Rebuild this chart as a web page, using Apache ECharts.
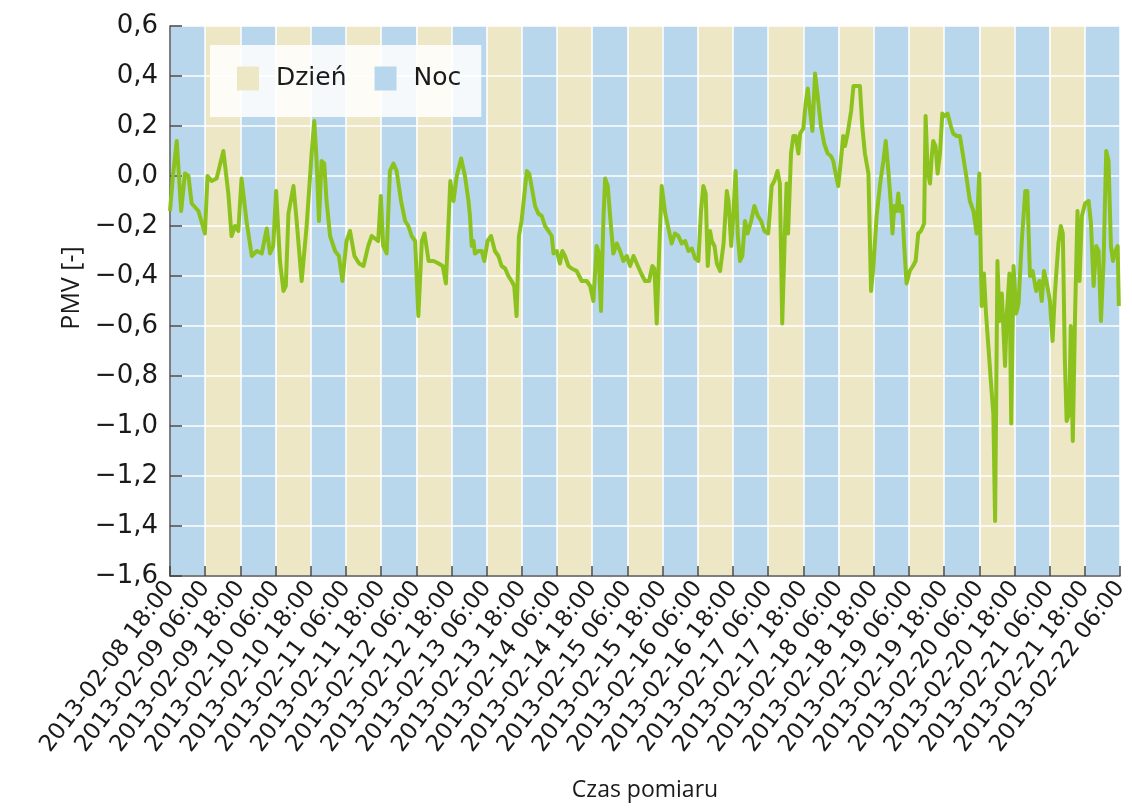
<!DOCTYPE html>
<html><head><meta charset="utf-8">
<script src="https://cdn.jsdelivr.net/npm/echarts@6/dist/echarts.min.js"></script>
<style>html,body{margin:0;padding:0;background:#fff}#c{width:1132px;height:810px}</style>
</head><body><div id="c"></div>
<script>
// x tick labels, every 12 hours from 2013-02-08 18:00
const tickLabels = [
 '2013-02-08 18:00','2013-02-09 06:00','2013-02-09 18:00','2013-02-10 06:00','2013-02-10 18:00',
 '2013-02-11 06:00','2013-02-11 18:00','2013-02-12 06:00','2013-02-12 18:00','2013-02-13 06:00',
 '2013-02-13 18:00','2013-02-14 06:00','2013-02-14 18:00','2013-02-15 06:00','2013-02-15 18:00',
 '2013-02-16 06:00','2013-02-16 18:00','2013-02-17 06:00','2013-02-17 18:00','2013-02-18 06:00',
 '2013-02-18 18:00','2013-02-19 06:00','2013-02-19 18:00','2013-02-20 06:00','2013-02-20 18:00',
 '2013-02-21 06:00','2013-02-21 18:00','2013-02-22 06:00'
];
const stepHours = 12;
// period between consecutive ticks: night (18-06) / day (06-18)
const periods = ['Noc','Dzień','Noc','Dzień','Noc','Dzień','Noc','Dzień','Noc','Dzień','Noc','Dzień','Noc','Dzień',
 'Noc','Dzień','Noc','Dzień','Noc','Dzień','Noc','Dzień','Noc','Dzień','Noc','Dzień','Noc'];
const yTicks = {min:-1.6, max:0.6, step:0.2};
// PMV readings: [hours since 2013-02-08 18:00, PMV]
const pmvReadings = [
 [0,-0.14],[1.0,0.0],[2.3,0.14],[3.8,-0.14],[5.1,0.01],[6.3,0.0],[7.4,-0.11],[9.7,-0.14],[11.9,-0.23],
 [12.8,0.0],[14.2,-0.02],[15.9,-0.01],[18.2,0.10],[19.9,-0.07],[21.0,-0.24],[22.2,-0.20],[23.3,-0.22],
 [24.4,-0.01],[26.1,-0.18],[27.9,-0.32],[29.6,-0.30],[31.3,-0.31],[33.0,-0.21],[34.1,-0.31],[35.2,-0.28],
 [36.2,-0.06],[37.5,-0.34],[38.7,-0.46],[39.5,-0.44],[40.4,-0.15],[42.1,-0.04],[43.2,-0.18],[44.9,-0.42],
 [46.6,-0.20],[48.3,0.09],[49.2,0.22],[50.0,0.06],[50.8,-0.18],[51.7,0.06],[52.6,0.05],[53.4,-0.10],
 [54.6,-0.24],[56.3,-0.30],[57.6,-0.32],[58.8,-0.42],[60.2,-0.26],[61.4,-0.22],[62.9,-0.32],[64.5,-0.35],
 [66.0,-0.36],[67.6,-0.28],[68.8,-0.24],[69.9,-0.25],[71.0,-0.26],[71.9,-0.08],[72.7,-0.28],[73.9,-0.31],
 [75.0,0.02],[76.2,0.05],[77.3,0.02],[78.8,-0.10],[80.2,-0.18],[81.3,-0.20],[82.4,-0.24],[83.6,-0.26],
 [84.7,-0.56],[85.9,-0.26],[86.8,-0.23],[88.2,-0.34],[89.9,-0.34],[91.6,-0.35],[93.0,-0.36],[94.1,-0.43],
 [95.6,-0.02],[96.7,-0.10],[97.8,0.0],[99.3,0.07],[100.6,0.0],[101.8,-0.10],[102.3,-0.16],[102.9,-0.28],
 [103.5,-0.26],[104.0,-0.31],[105.2,-0.30],[106.3,-0.30],[107.2,-0.34],[108.3,-0.26],[109.5,-0.24],
 [110.8,-0.30],[112.0,-0.32],[113.1,-0.36],[114.3,-0.37],[115.4,-0.40],[116.5,-0.42],[117.4,-0.44],
 [118.2,-0.56],[119.0,-0.24],[119.9,-0.18],[120.9,-0.07],[121.7,0.02],[122.5,0.01],[123.3,-0.04],
 [124.5,-0.12],[125.6,-0.15],[126.8,-0.16],[127.9,-0.20],[129.1,-0.22],[130.2,-0.24],[130.8,-0.31],
 [131.9,-0.30],[133.0,-0.35],[133.8,-0.30],[134.7,-0.32],[135.9,-0.36],[137.0,-0.37],[138.7,-0.38],
 [140.4,-0.42],[142.1,-0.42],[143.3,-0.44],[144.4,-0.50],[145.5,-0.28],[146.1,-0.30],[147.0,-0.54],
 [147.8,-0.18],[148.4,-0.01],[149.3,-0.04],[150.1,-0.16],[151.2,-0.31],[152.4,-0.27],[153.5,-0.30],
 [154.6,-0.34],[155.8,-0.32],[156.9,-0.36],[158.1,-0.32],[159.2,-0.35],[160.7,-0.39],[162.0,-0.42],
 [163.4,-0.42],[164.5,-0.36],[165.2,-0.37],[166.0,-0.59],[166.9,-0.28],[167.7,-0.04],[168.9,-0.15],
 [170.0,-0.21],[171.1,-0.27],[172.2,-0.23],[173.4,-0.24],[174.5,-0.27],[175.7,-0.26],[176.8,-0.30],
 [178.0,-0.29],[179.1,-0.33],[180.2,-0.34],[181.1,-0.14],[181.9,-0.04],[182.7,-0.07],[183.4,-0.36],
 [184.2,-0.22],[184.8,-0.26],[185.7,-0.28],[186.5,-0.35],[187.6,-0.38],[188.8,-0.27],[189.9,-0.06],
 [190.5,-0.10],[191.4,-0.28],[192.1,-0.16],[192.9,0.02],[193.6,-0.23],[194.4,-0.34],[195.2,-0.32],
 [196.1,-0.18],[197.0,-0.23],[198.2,-0.18],[199.3,-0.12],[200.5,-0.16],[201.6,-0.18],[202.7,-0.22],
 [204.0,-0.23],[204.6,-0.14],[205.2,-0.04],[206.1,-0.02],[207.2,0.02],[208.0,-0.03],[208.8,-0.59],
 [209.7,-0.23],[210.3,-0.03],[210.8,-0.23],[211.8,0.09],[212.6,0.16],[213.4,0.16],[214.3,0.09],
 [214.9,0.17],[216.0,0.19],[216.8,0.29],[217.5,0.35],[218.3,0.26],[219.1,0.18],[220.0,0.41],[220.9,0.32],
 [222.0,0.20],[223.1,0.13],[224.3,0.09],[225.4,0.08],[226.2,0.06],[227.0,0.01],[227.9,-0.04],[228.8,0.06],
 [229.6,0.16],[230.2,0.12],[231.1,0.17],[232.3,0.26],[233.1,0.36],[234.2,0.36],[235.3,0.36],[236.1,0.20],
 [237.0,0.09],[238.2,0.01],[239.1,-0.46],[239.9,-0.36],[241.0,-0.16],[242.2,-0.03],[243.3,0.06],
 [244.1,0.14],[245.0,0.02],[245.9,-0.12],[246.4,-0.23],[247.0,-0.12],[247.8,-0.14],[248.4,-0.07],
 [248.9,-0.14],[249.7,-0.12],[250.4,-0.28],[251.2,-0.43],[252.3,-0.38],[253.4,-0.36],[254.3,-0.34],
 [255.2,-0.23],[256.1,-0.22],[257.2,-0.19],[257.7,0.24],[258.4,0.02],[259.2,-0.03],[259.8,0.08],
 [260.3,0.14],[261.1,0.12],[261.8,0.01],[262.6,0.09],[263.4,0.25],[264.2,0.24],[265.2,0.25],[266.3,0.20],
 [267.1,0.17],[268.3,0.16],[269.4,0.16],[270.5,0.08],[271.7,-0.01],[272.8,-0.10],[274.0,-0.14],
 [275.1,-0.23],[276.0,0.01],[276.8,-0.52],[277.6,-0.39],[278.3,-0.55],[279.1,-0.68],[280.2,-0.86],
 [280.8,-0.95],[281.4,-1.38],[282.2,-0.34],[282.9,-0.58],[283.7,-0.47],[284.8,-0.76],[285.4,-0.55],
 [286.3,-0.39],[286.9,-0.99],[287.7,-0.36],[288.6,-0.55],[289.4,-0.51],[290.5,-0.26],[291.7,-0.06],
 [292.4,-0.06],[293.3,-0.40],[294.2,-0.38],[295.4,-0.46],[296.5,-0.42],[297.3,-0.50],[298.1,-0.38],
 [299.2,-0.44],[300.1,-0.50],[301.0,-0.66],[301.8,-0.47],[303.0,-0.27],[303.8,-0.20],[304.5,-0.23],
 [305.2,-0.74],[305.8,-0.98],[306.7,-0.95],[307.2,-0.60],[307.9,-1.06],[308.7,-0.54],[309.5,-0.14],
 [310.2,-0.42],[311.0,-0.16],[312.1,-0.11],[313.3,-0.10],[314.1,-0.19],[315.0,-0.44],[315.9,-0.28],
 [316.7,-0.30],[317.5,-0.58],[318.4,-0.34],[319.3,0.10],[320.1,0.06],[320.9,-0.28],[321.6,-0.34],
 [322.4,-0.30],[323.2,-0.28],[323.6,-0.52]
];
const colors = {day:'#ede7c6', night:'#b8d7ec', line:'#8cc21e'};

const fmtNum = v => v.toFixed(1).replace('.', ',').replace('-', '\u2212');
function bands(kind){
  const out = [];
  periods.forEach((p,i)=>{ if(p===kind) out.push([{xAxis:i*stepHours},{xAxis:(i+1)*stepHours}]); });
  return out;
}
const chart = echarts.init(document.getElementById('c'));
chart.setOption({
  animation:false,
  grid:{left:170, right:12, top:26, bottom:234, containLabel:false},
  legend:{
    data:['Dzień','Noc'], left:210, top:45, orient:'horizontal', z:20,
    backgroundColor:'rgba(255,255,255,0.85)', padding:[21,20,26,27],
    itemWidth:22, itemHeight:24, itemGap:28, icon:'rect',
    textStyle:{fontFamily:'DejaVu Sans', fontSize:25, color:'#1a1a1a', padding:[0,0,0,12]}
  },
  xAxis:{
    type:'value', min:0, max:(tickLabels.length-1)*stepHours, interval:stepHours, z:4,
    name:'Czas pomiaru', nameLocation:'middle', nameGap:203,
    nameTextStyle:{fontFamily:'Open Sans', fontSize:23, color:'#1a1a1a'},
    axisLine:{show:true, onZero:false, lineStyle:{color:'#555', width:1.5}},
    axisTick:{show:true, inside:true, length:10, lineStyle:{color:'#444', width:1.5}},
    axisLabel:{rotate:53, margin:8, fontFamily:'DejaVu Sans', fontSize:23, color:'#1a1a1a',
      formatter:v=>tickLabels[Math.round(v/stepHours)]||''},
    splitLine:{show:true, lineStyle:{color:'#ffffff', width:1.5}}
  },
  yAxis:{
    type:'value', min:yTicks.min, max:yTicks.max, interval:yTicks.step, z:4,
    name:'PMV [-]', nameLocation:'middle', nameGap:86, nameRotate:90,
    nameTextStyle:{fontFamily:'Open Sans', fontSize:25, color:'#1a1a1a', padding:[0,0,0,26]},
    axisLine:{show:true, lineStyle:{color:'#555', width:1.5}},
    axisTick:{show:true, inside:true, length:12, lineStyle:{color:'#444', width:1.5}},
    axisLabel:{margin:12, fontFamily:'DejaVu Sans', fontSize:26, color:'#1a1a1a', formatter:fmtNum},
    splitLine:{show:true, lineStyle:{color:'#ffffff', width:1.5}}
  },
  series:[
    {name:'Dzień', type:'line', data:[], z:1, color:colors.day, itemStyle:{color:colors.day},
     markArea:{silent:true, itemStyle:{color:colors.day, opacity:1}, label:{show:false}, data:bands('Dzień')}},
    {name:'Noc', type:'line', data:[], z:1, color:colors.night, itemStyle:{color:colors.night},
     markArea:{silent:true, itemStyle:{color:colors.night, opacity:1}, label:{show:false}, data:bands('Noc')}},
    {name:'PMV', type:'line', data:pmvReadings, showSymbol:false, symbol:'none', z:10,
     lineStyle:{color:colors.line, width:4, join:'round'}}
  ]
});
</script></body></html>
